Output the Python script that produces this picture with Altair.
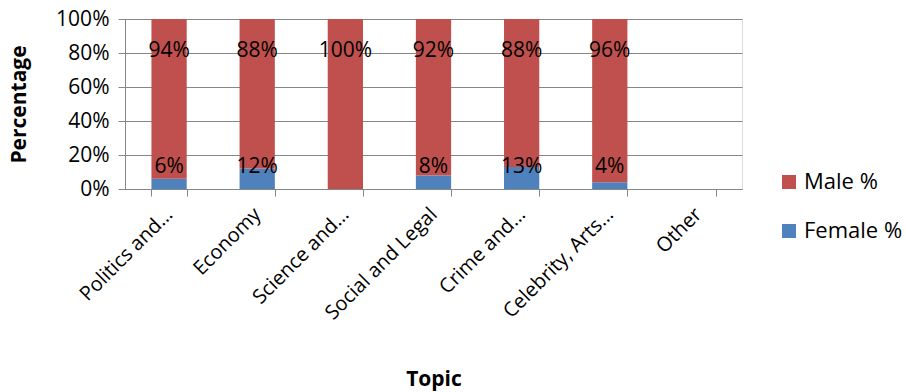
import altair as alt
import pandas as pd

topics = ["Politics and…", "Economy", "Science and…", "Social and Legal",
          "Crime and…", "Celebrity, Arts…", "Other"]
female = [6, 12, 0, 8, 13, 4, None]
male = [94, 88, 100, 92, 88, 96, None]
series = ["Male %", "Female %"]
colors = ["#C0504D", "#4F81BD"]
ticks_y = [0, 0.2, 0.4, 0.6, 0.8, 1.0]

rows = []
for t, f, m in zip(topics, female, male):
    if f is not None:
        rows.append({"topic": t, "series": "Female %", "value": f, "ord": 0})
    if m is not None:
        rows.append({"topic": t, "series": "Male %", "value": m, "ord": 1})
df = pd.DataFrame(rows)

FONT = "Open Sans"

xaxis = alt.Axis(title="Topic", labelAngle=-45, labelAlign="right", labelBaseline="middle",
                 labelFontSize=20, labelFont=FONT, labelColor="black", labelPadding=15,
                 labelOverlap=False,
                 titleFont=FONT, titleFontSize=21, titleFontWeight="bold", titleColor="black",
                 titleY=196, titleBaseline="alphabetic",
                 domainColor="#868686", tickColor="#868686", tickSize=7, tickBand="extent",
                 labelLimit=300)
xscale = alt.Scale(domain=topics, paddingInner=0.6, paddingOuter=0.3)

yaxis = alt.Axis(title="Percentage", format="%", values=ticks_y,
                 labelOverlap=False, labelFlush=False,
                 labelFontSize=21, labelFont=FONT, labelColor="black", labelPadding=9,
                 titleFont=FONT, titleFontSize=21, titleFontWeight="bold", titleColor="black",
                 titleX=-106, titleBaseline="middle",
                 domainColor="#868686", tickColor="#868686", tickSize=7,
                 grid=True, gridColor="#868686", gridWidth=1)
yscale = alt.Scale(domain=[0, 1], nice=False)

bars = alt.Chart(df).mark_bar().encode(
    x=alt.X("topic:N", scale=xscale, sort=topics, axis=xaxis),
    y=alt.Y("value:Q", stack="normalize", scale=yscale, axis=yaxis),
    color=alt.Color("series:N", scale=alt.Scale(domain=series, range=colors),
                    legend=alt.Legend(title=None, orient="none", legendX=653, legendY=152,
                                      symbolType="square", symbolSize=196, symbolStrokeWidth=0,
                                      labelFontSize=22, labelFont=FONT, labelColor="black",
                                      rowPadding=27, labelOffset=4)),
    order=alt.Order("ord:Q"),
)

lab = df[df["value"] > 0].copy()
lab["label"] = lab["value"].astype(int).astype(str) + "%"
lab["ypos"] = lab["series"].map({"Male %": 0.81, "Female %": 0.13})

texts = alt.Chart(lab).mark_text(font=FONT, fontSize=21, color="black", baseline="middle").encode(
    x=alt.X("topic:N", scale=xscale, sort=topics, axis=xaxis),
    y=alt.Y("ypos:Q", scale=yscale, axis=yaxis),
    text="label:N",
)

chart = alt.layer(bars, texts).properties(
    width=617, height=170,
    padding={"left": 125, "top": 19, "right": 164, "bottom": 203},
    autosize=alt.AutoSizeParams(type="none"),
).configure_view(stroke=None).configure(background="white")

chart.save("out.html", embed_options={"renderer": "svg", "actions": False})
